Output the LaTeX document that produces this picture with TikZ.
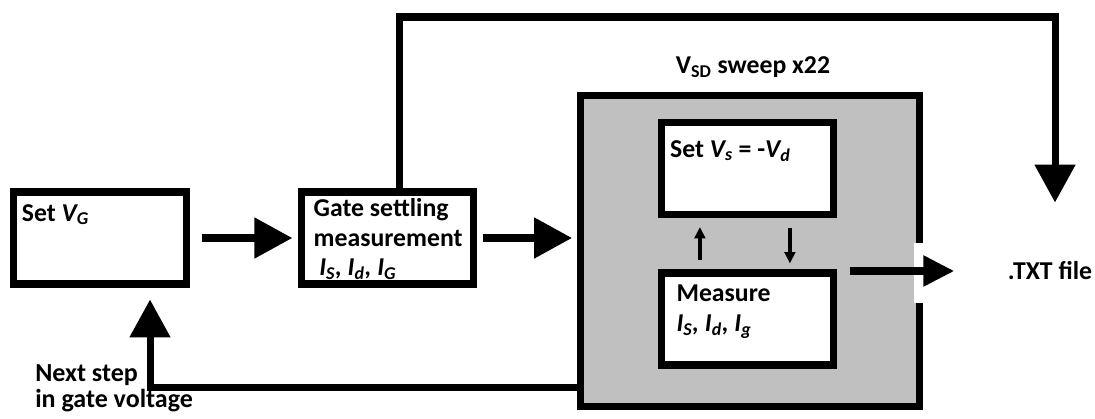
\documentclass[tikz,border=0pt]{standalone}
\usepackage{fontspec}
\setmainfont{Carlito}
\usetikzlibrary{arrows.meta}

\definecolor{sweepgray}{RGB}{192,192,192}

\tikzset{
  box/.style={draw, line width=5pt, fill=white, minimum width=4.3cm, minimum height=2.3cm, inner sep=0pt},
  txt/.style={font=\bfseries\fontsize{18.3}{21}\selectfont, align=left, inner sep=0pt, anchor=north west},
  flow/.style={line width=5pt, -{Triangle[length=27pt,width=28pt]}},
  smallflow/.style={line width=2.4pt, -{Triangle[length=8pt,width=7.5pt]}},
}

\begin{document}
\begin{tikzpicture}[x=0.025cm, y=-0.025cm]
  \useasboundingbox (0,0) rectangle (1095,419);

  % sweep loop
  \node[draw, line width=5pt, fill=sweepgray, minimum width=8.475cm, minimum height=7.775cm] (sweep) at (750,251) {};
  \node[font=\bfseries\fontsize{18.3}{21}\selectfont] (sweeplbl) at (753,67) {V\textsubscript{SD} sweep x22};

  \node[box, label={[txt, xshift=8pt, yshift=-11pt]north west:Set \textit{V\textsubscript{G}}}] (setg) at (100,238) {};
  \node[box, label={[txt, xshift=11pt, yshift=-7pt]north west:Gate settling\\measurement\\\hspace{4pt}\textit{I\textsubscript{S}, I\textsubscript{d}, I\textsubscript{G}}}] (gate) at (387.5,238) {};
  \node[box, label={[txt, xshift=8.5pt, yshift=-15pt]north west:Set \textit{V\textsubscript{s}} = -\textit{V\textsubscript{d}}}] (setv) at (747.5,168.5) {};
  \node[box, label={[txt, xshift=13pt, yshift=-11pt]north west:Measure\\\textit{I\textsubscript{S}, I\textsubscript{d}, I\textsubscript{g}}}] (meas) at (747.5,319) {};

  \node[txt, anchor=center] (txtf) at (1050,271) {.TXT file};
  \node[txt, font=\bfseries\fontsize{18.5}{19}\selectfont] (next) at (35,364) {Next step\\in gate voltage};
  \coordinate (corner) at (1055,17);

  % connectors
  \draw[flow, shorten <=9pt, shorten >=4pt] (setg) -- (gate);
  \draw[flow, shorten <=4pt, shorten >=3.5pt] (gate.east) -- (gate.east -| sweep.west);
  \draw[flow, shorten >=42pt] ([xshift=.31cm]gate.north) |- (corner) -- (corner |- txtf.north);
  \draw[flow, shorten >=8.5pt] ([yshift=.575cm]sweep.south west) -| ([xshift=1.25cm]setg.south);

  \fill[white] (914,243) rectangle (926,303);
  \draw[line width=5pt, -{Triangle[length=22pt,width=21pt]}, shorten <=9pt, shorten >=38pt] (meas.east |- txtf) -- (txtf.west);

  \draw[smallflow, shorten <=6.4pt, shorten >=6.4pt] ([xshift=-1.19cm]meas.north) -- ([xshift=-1.19cm]setv.south);
  \draw[smallflow, shorten <=7pt, shorten >=4.3pt] ([xshift=1.06cm]setv.south) -- ([xshift=1.06cm]meas.north);
\end{tikzpicture}
\end{document}
